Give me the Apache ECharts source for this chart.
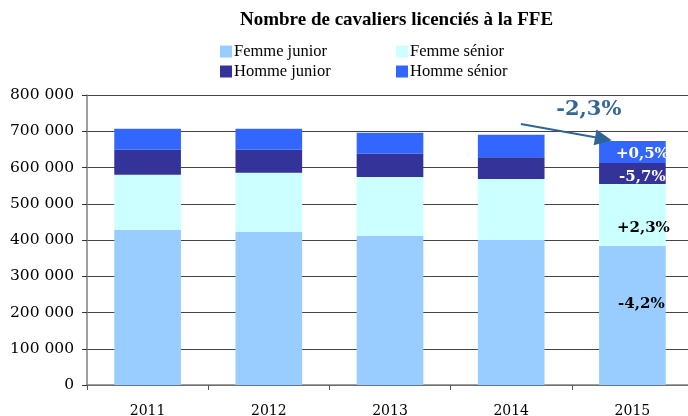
<!DOCTYPE html>
<html>
<head>
<meta charset="utf-8">
<script src="https://cdn.jsdelivr.net/npm/echarts@6/dist/echarts.min.js"></script>
<style>
    html, body { margin: 0; padding: 0; background: #fff; }
    #chart { width: 688px; height: 416px; }
</style>
</head>
<body>
<div id="chart"></div>
<script>
// data
const years = ['2011', '2012', '2013', '2014', '2015'];
const femmeJunior = [428400, 422900, 411800, 400800, 384000];
const femmeSenior = [151500, 162500, 162300, 167800, 170800];
const hommeJunior = [68900, 63400, 63600, 59500, 57800];
const hommeSenior = [57800, 57800, 57900, 62000, 60700];
// evolution 2014 -> 2015, same order as the series
const evolution = ['-4,2%', '+2,3%', '-5,7%', '+0,5%'];
const totalEvolution = '-2,3%';
const yTicks = [0, 100000, 200000, 300000, 400000, 500000, 600000, 700000, 800000];

const serif = 'DejaVu Serif';
const colors = ['#99CCFF', '#CCFFFF', '#333399', '#3366FF'];
const names = ['Femme junior', 'Femme sénior', 'Homme junior', 'Homme sénior'];
const values = [femmeJunior, femmeSenior, hommeJunior, hommeSenior];
// label placement inside the 2015 bar
const labelColor = ['#000', '#000', '#fff', '#fff'];
const labelOffset = [[9, -11], [11, 13], [10, 4], [10, 2]];

function fmt(v) {
    return String(v).replace(/\B(?=(\d{3})+(?!\d))/g, ' ');
}

const legendText = { fontFamily: 'Liberation Serif', fontSize: 16.5, color: '#000', padding: [0, 0, 0, -3] };
const mainTitle = {
    text: 'Nombre de cavaliers licenciés à la FFE',
    left: 240,
    top: 11,
    padding: 0,
    textStyle: { fontFamily: 'Liberation Serif', fontWeight: 'bold', fontSize: 19, color: '#000' }
};

const chart = echarts.init(document.getElementById('chart'));

chart.setOption({
    animation: false,
    title: [mainTitle],
    legend: [
        {
            data: [names[0], names[2]],
            orient: 'vertical', left: 220, top: 43, padding: 0,
            itemWidth: 12, itemHeight: 12, itemGap: 3,
            icon: 'rect',
            textStyle: legendText
        },
        {
            data: [names[1], names[3]],
            orient: 'vertical', left: 396, top: 43, padding: 0,
            itemWidth: 12, itemHeight: 12, itemGap: 3,
            icon: 'rect',
            textStyle: legendText
        }
    ],
    grid: { left: 87, top: 95, width: 606, bottom: 31, containLabel: false, outerBoundsMode: 'none' },
    xAxis: {
        type: 'category',
        data: years,
        axisLine: { lineStyle: { color: '#808080', width: 1.5 } },
        axisTick: { show: true, length: 5, lineStyle: { color: '#555' } },
        axisLabel: { fontFamily: serif, fontSize: 14, color: '#000', margin: 19 }
    },
    yAxis: {
        type: 'value',
        min: yTicks[0],
        max: yTicks[yTicks.length - 1],
        interval: yTicks[1] - yTicks[0],
        axisLine: { show: true, lineStyle: { color: '#808080', width: 1.5 } },
        axisTick: { show: true, length: 5, lineStyle: { color: '#333' } },
        axisLabel: { fontFamily: serif, fontSize: 15.5, color: '#000', margin: 13, formatter: fmt },
        splitLine: { lineStyle: { color: '#444', width: 1 } }
    },
    series: names.map((n, s) => ({
        name: n,
        type: 'bar',
        stack: 'total',
        barWidth: '55%',
        itemStyle: { color: colors[s] },
        data: values[s].map((v, i) => i === years.length - 1 ? {
            value: v,
            label: {
                show: true,
                position: 'inside',
                offset: labelOffset[s],
                formatter: evolution[s],
                fontFamily: serif,
                fontWeight: 'bold',
                fontSize: 15,
                color: labelColor[s]
            }
        } : v)
    }))
});

// arrow + total evolution annotation, placed in data space
const arrowFrom = [3.08, 720000];
const arrowTo = [3.83, 675000];
const arrowText = [3.64, 752000];

function toPx(p) {
    const i = Math.floor(p[0]);
    const a = chart.convertToPixel({ gridIndex: 0 }, [i, p[1]]);
    const b = chart.convertToPixel({ gridIndex: 0 }, [i + 1, p[1]]);
    return [a[0] + (b[0] - a[0]) * (p[0] - i), a[1]];
}

const p0 = toPx(arrowFrom);
const p1 = toPx(arrowTo);
const pt = toPx(arrowText);
const ang = Math.atan2(p1[1] - p0[1], p1[0] - p0[0]);
const headLen = 17, headHalf = 8;
const base = [p1[0] - headLen * Math.cos(ang), p1[1] - headLen * Math.sin(ang)];
const nx = -Math.sin(ang), ny = Math.cos(ang);
const arrowColor = '#2F6496';

chart.setOption({
    title: [
        mainTitle,
        {
            text: totalEvolution,
            left: pt[0],
            top: pt[1] - 13,
            textAlign: 'center',
            padding: 0,
            textStyle: { fontFamily: serif, fontWeight: 'bold', fontSize: 21, color: '#336699' }
        }
    ],
    graphic: [
        {
            type: 'line',
            shape: { x1: p0[0], y1: p0[1], x2: base[0], y2: base[1] },
            style: { stroke: arrowColor, lineWidth: 2 },
            z: 100
        },
        {
            type: 'polygon',
            shape: { points: [p1, [base[0] + nx * headHalf, base[1] + ny * headHalf], [base[0] - nx * headHalf, base[1] - ny * headHalf]] },
            style: { fill: arrowColor },
            z: 100
        }
    ]
});
</script>
</body>
</html>
